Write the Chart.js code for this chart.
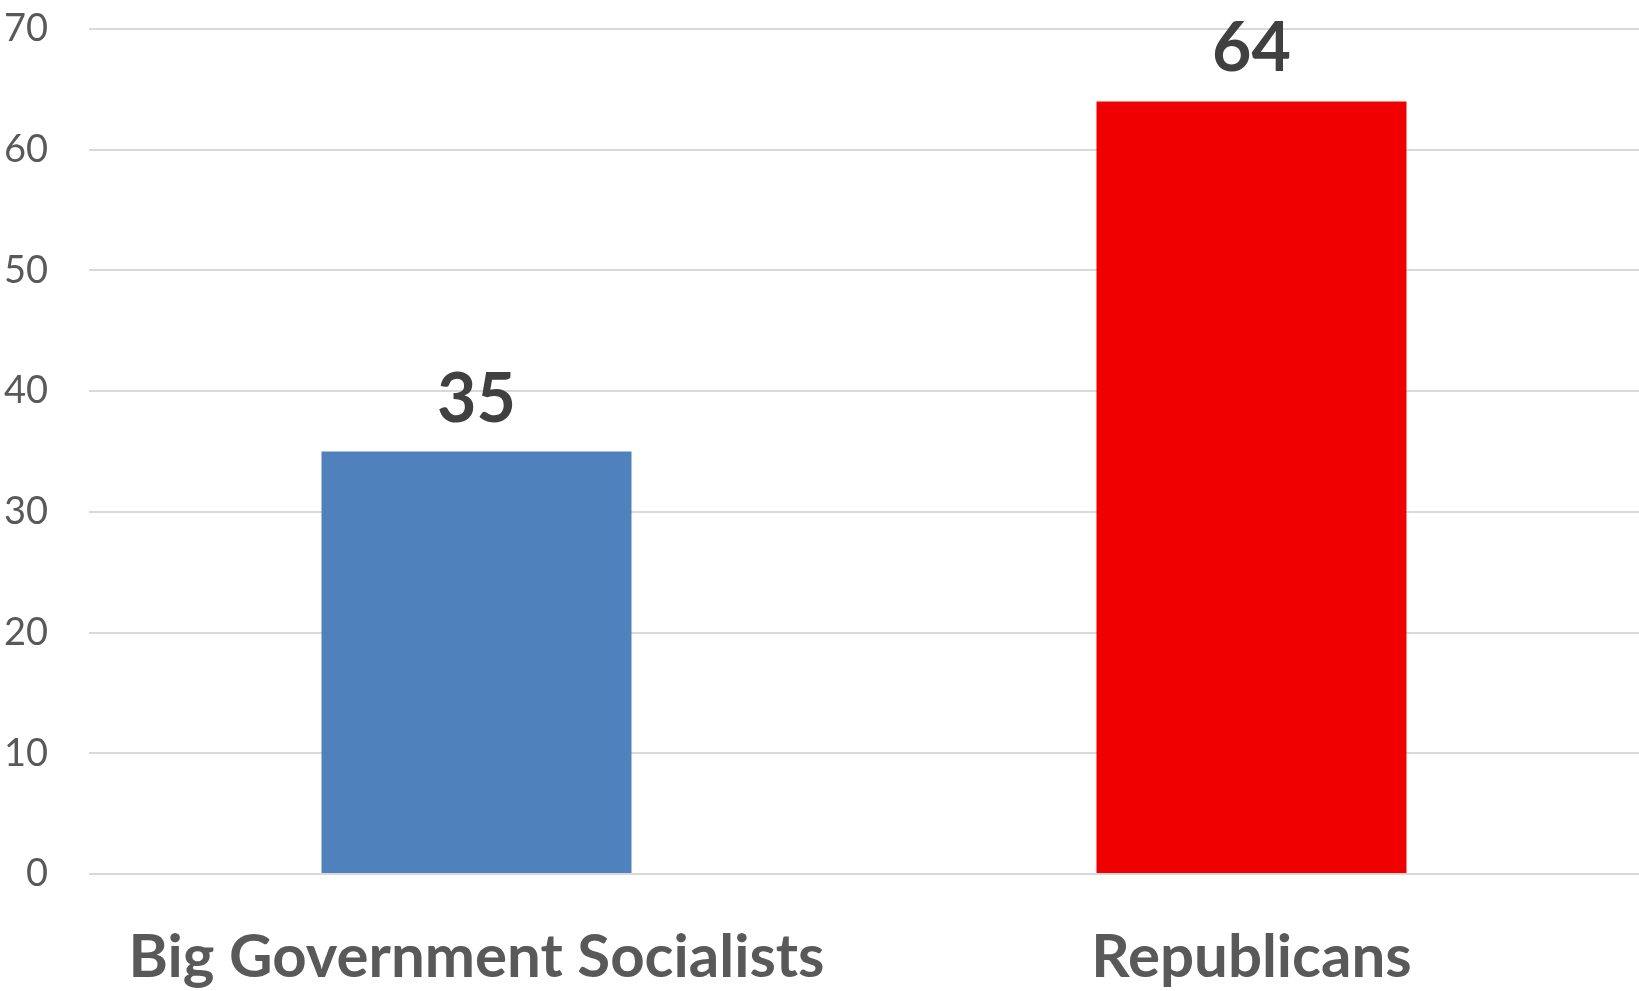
<!DOCTYPE html>
<html>
<head>
<meta charset="utf-8">
<script src="https://cdn.jsdelivr.net/npm/chart.js@4/dist/chart.umd.min.js"></script>
<style>
  html, body { margin: 0; padding: 0; background: #fff; }
  #wrap { width: 1639px; height: 991px; position: relative; }
</style>
</head>
<body>
<div id="wrap"><canvas id="myChart"></canvas></div>
<script>
const categories = ['Big Government Socialists', 'Republicans'];
const values = [35, 64];
const barColors = ['#4f81bd', '#f00000'];
const yTicks = [0, 10, 20, 30, 40, 50, 60, 70];

// draws the big number above each bar
const valueLabels = {
    id: 'valueLabels',
    afterDatasetsDraw(chart) {
        const ctx = chart.ctx;
        const meta = chart.getDatasetMeta(0);
        ctx.save();
        ctx.font = 'bold 68px Lato';
        ctx.fillStyle = '#404040';
        ctx.textAlign = 'center';
        ctx.textBaseline = 'alphabetic';
        meta.data.forEach((bar, i) => {
            ctx.fillText(String(values[i]), bar.x, bar.y - 30);
        });
        ctx.restore();
    }
};

document.addEventListener('DOMContentLoaded', () => {
    const ctx = document.getElementById('myChart').getContext('2d');
    new Chart(ctx, {
        type: 'bar',
        data: {
            labels: categories,
            datasets: [{
                data: values,
                backgroundColor: barColors,
                categoryPercentage: 1,
                barPercentage: 0.4
            }]
        },
        options: {
            responsive: true,
            maintainAspectRatio: false,
            animation: false,
            layout: { padding: { top: 29, right: 0, bottom: 0, left: 0 } },
            plugins: {
                legend: { display: false },
                tooltip: { enabled: false }
            },
            scales: {
                x: {
                    afterFit(scale) { scale.height = 117; },
                    grid: { display: false },
                    border: { display: false },
                    ticks: {
                        color: '#595959',
                        font: { family: 'Lato', size: 60, weight: 'bold' },
                        padding: 40,
                        maxRotation: 0
                    }
                },
                y: {
                    min: 0,
                    max: 70,
                    afterBuildTicks(scale) {
                        scale.ticks = yTicks.map(v => ({ value: v }));
                    },
                    afterFit(scale) {
                        scale.width = 89;
                        scale.paddingTop = 0;
                        scale.paddingBottom = 0;
                    },
                    grid: { color: '#d9d9d9', lineWidth: 2, drawTicks: false },
                    border: { display: false },
                    ticks: {
                        color: '#595959',
                        font: { family: 'Lato', size: 38 },
                        padding: 41
                    }
                }
            }
        },
        plugins: [valueLabels]
    });
});
</script>
</body>
</html>
